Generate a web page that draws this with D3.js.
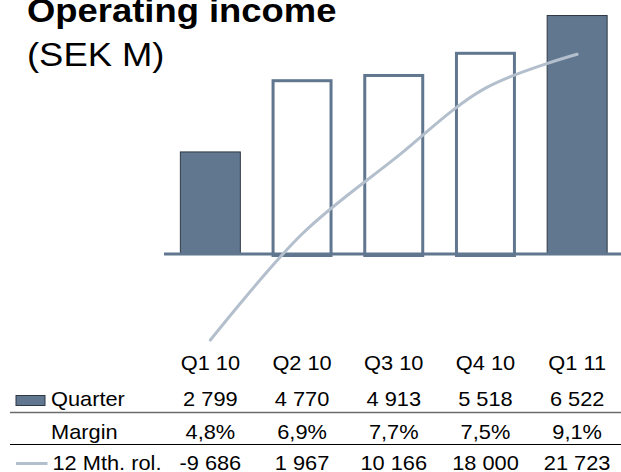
<!DOCTYPE html>
<html>
<head>
<meta charset="utf-8">
<script src="https://cdn.jsdelivr.net/npm/d3@7"></script>
<style>
  body { margin: 0; background: #fff; }
  svg { display: block; font-family: "Liberation Sans", Arial, sans-serif; }
</style>
</head>
<body>
<div class="chart"></div>
<script>
const quarters = ['Q1 10', 'Q2 10', 'Q3 10', 'Q4 10', 'Q1 11'];
const quarterValues = [2799, 4770, 4913, 5518, 6522];
const quarterLabels = ['2 799', '4 770', '4 913', '5 518', '6 522'];
const marginLabels = ['4,8%', '6,9%', '7,7%', '7,5%', '9,1%'];
const rolling = [-9686, 1967, 10166, 18000, 21723];
const rollingLabels = ['-9 686', '1 967', '10 166', '18 000', '21 723'];
const filledBars = [true, false, false, false, true];

const width = 621, height = 472;
const dark = '#61778f', lineCol = '#b3bfcc';

const svg = d3.select('.chart').append('svg')
  .attr('width', width)
  .attr('height', height)

const x = d3.scaleBand()
  .domain(quarters)
  .range([164.5, 623])
  .paddingInner(0.335)
  .paddingOuter(0.1675)

const yBar = d3.scaleLinear().domain([0, 7000]).range([254, -2.5])
const yLine = d3.scaleLinear().domain([-10000, 25000]).range([342.9, 24.5])

const cx = q => x(q) + x.bandwidth() / 2;

// title
const sx = 1.12;
svg.append('text')
  .attr('transform', `translate(27,22) scale(${sx},1)`)
  .style('font-size', '32.5px')
  .style('font-weight', 'bold')
  .text('Operating income')
svg.append('text')
  .attr('transform', `translate(27,65.5) scale(${sx},1)`)
  .style('font-size', '32.5px')
  .text('(SEK M)')

// bars
const bars = svg.append('g')
bars.selectAll('rect')
  .data(quarters)
  .join('rect')
  .attr('x', (d, i) => filledBars[i] ? x(d) + 0.5 : x(d) + 1.5)
  .attr('width', (d, i) => filledBars[i] ? x.bandwidth() - 1 : x.bandwidth() - 3)
  .attr('y', (d, i) => yBar(quarterValues[i]) + (filledBars[i] ? 0.5 : 1.5))
  .attr('height', (d, i) => yBar(0) - yBar(quarterValues[i]))
  .style('fill', (d, i) => filledBars[i] ? dark : '#fff')
  .style('stroke', (d, i) => filledBars[i] ? '#2e3945' : dark)
  .style('stroke-width', (d, i) => filledBars[i] ? 1 : 3)

// baseline
svg.append('line')
  .attr('x1', 164).attr('x2', width)
  .attr('y1', yBar(0)).attr('y2', yBar(0))
  .style('stroke', dark)
  .style('stroke-width', 3)

// rolling 12 month line
const line = d3.line()
  .x((d, i) => cx(quarters[i]))
  .y(d => yLine(d))
  .curve(d3.curveCatmullRom.alpha(0.5))

svg.append('path')
  .datum(rolling)
  .attr('d', line)
  .style('fill', 'none')
  .style('stroke', lineCol)
  .style('stroke-width', 3)
  .style('stroke-linecap', 'round')

// table
const tsx = 1.09;
const rows = [
  {y: 369.5, labels: quarters},
  {y: 406, labels: quarterLabels},
  {y: 439, labels: marginLabels},
  {y: 470, labels: rollingLabels}
];

const table = svg.append('g').style('font-size', '20px')
rows.forEach(r => {
  table.append('g').selectAll('text')
    .data(r.labels)
    .join('text')
    .attr('transform', (d, i) => `translate(${cx(quarters[i])},${r.y}) scale(${tsx},1)`)
    .attr('text-anchor', 'middle')
    .text(d => d)
})

// row labels
table.append('text')
  .attr('transform', `translate(51,406) scale(${tsx},1)`)
  .text('Quarter')
table.append('text')
  .attr('transform', `translate(51,439) scale(${tsx},1)`)
  .text('Margin')
table.append('text')
  .attr('transform', `translate(52.5,470) scale(${tsx},1)`)
  .text('12 Mth. rol.')

// legend keys
svg.append('rect')
  .attr('x', 16).attr('y', 395.5)
  .attr('width', 29).attr('height', 10)
  .style('fill', dark)
  .style('stroke', '#2e3945')
  .style('stroke-width', 1)
svg.append('line')
  .attr('x1', 16).attr('x2', 47.5)
  .attr('y1', 463.5).attr('y2', 463.5)
  .style('stroke', lineCol)
  .style('stroke-width', 3)

// row separators
svg.append('line')
  .attr('x1', 10).attr('x2', width)
  .attr('y1', 412.5).attr('y2', 412.5)
  .style('stroke', '#6b6b6b')
  .style('stroke-width', 1.5)
svg.append('line')
  .attr('x1', 10).attr('x2', width)
  .attr('y1', 444.5).attr('y2', 444.5)
  .style('stroke', '#000')
  .style('stroke-width', 1)
</script>
</body>
</html>
